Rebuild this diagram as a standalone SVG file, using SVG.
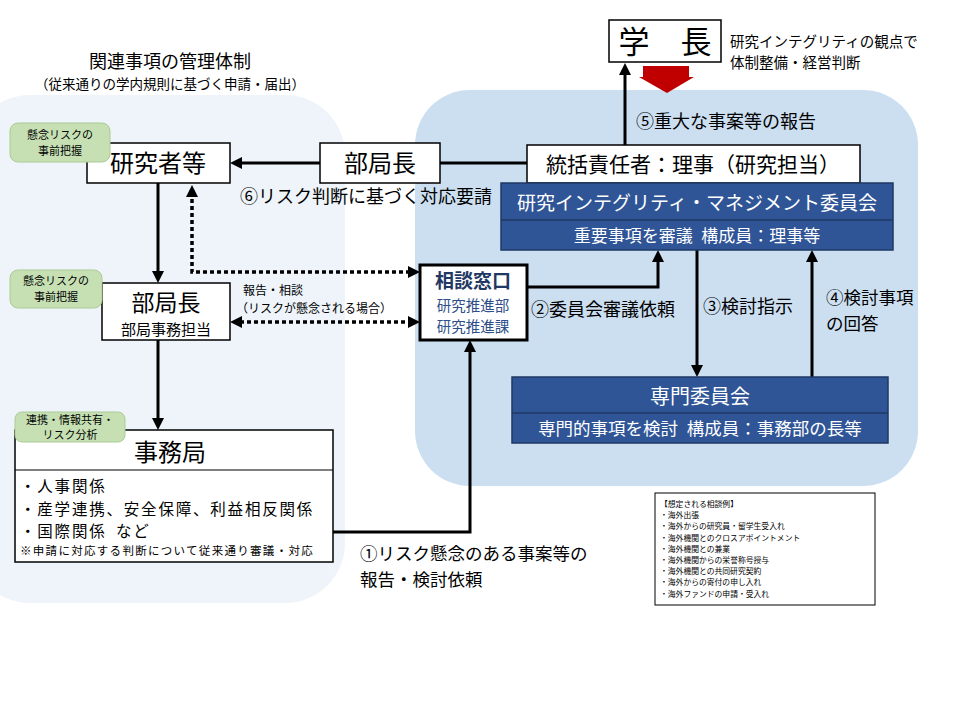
<svg xmlns="http://www.w3.org/2000/svg" width="960" height="720" viewBox="0 0 960 720">
<defs>
<style>
text{font-family:"Noto Sans CJK JP","Noto Sans",sans-serif;fill:#000}
.box{fill:#fff;stroke:#000;stroke-width:1.5}
.tag{fill:#C6E0B4;stroke:#AACB95;stroke-width:1}
.tagt{font-size:11px;text-anchor:middle}
.navy{fill:#2F5597;stroke:#1F3864;stroke-width:1.5}
.wt{fill:#fff;text-anchor:middle}
.c{text-anchor:middle}
.lbl{font-size:17.5px}
.solid{fill:none;stroke:#000;stroke-width:3}
.dot{fill:none;stroke:#000;stroke-width:3.5;stroke-dasharray:4 3}
.ex{font-size:7.8px}
.item{font-size:15.5px;letter-spacing:1.8px}
</style>
<marker id="ah" viewBox="0 0 12 12" markerWidth="12" markerHeight="12" markerUnits="userSpaceOnUse" refX="2" refY="6" orient="auto-start-reverse">
<path d="M0,0 L12,6 L0,12 z" fill="#000"/>
</marker>
</defs>
<rect width="960" height="720" fill="#fff"/>
<g id="backgrounds">
<rect x="-30" y="95" width="375" height="508" rx="60" fill="#EEF4FA"/>
<rect x="415" y="90" width="503" height="396" rx="55" fill="#CCDFF1"/>
</g>
<g id="title">
<text x="170" y="68" class="c" font-size="18">関連事項の管理体制</text>
<text x="170" y="89" class="c" font-size="13.5">（従来通りの学内規則に基づく申請・届出）</text>
</g>
<g id="connectors">
<path class="solid" d="M527,163 H440"/>
<path class="solid" d="M320,163 H240" marker-end="url(#ah)"/>
<path class="solid" d="M625,145 V73" marker-end="url(#ah)"/>
<path class="solid" d="M158,183 V273" marker-end="url(#ah)"/>
<path class="solid" d="M158,340 V420" marker-end="url(#ah)"/>
<path class="dot" d="M410,272 H192 V195" marker-start="url(#ah)" marker-end="url(#ah)"/>
<path class="dot" d="M240,322 H410" marker-start="url(#ah)" marker-end="url(#ah)"/>
<path class="solid" d="M333,532 H470 V350" marker-end="url(#ah)"/>
<path class="solid" d="M527,287 H658 V260" marker-end="url(#ah)"/>
<path class="solid" d="M697,250 V367" marker-end="url(#ah)"/>
<path class="solid" d="M812,377 V260" marker-end="url(#ah)"/>
<polygon points="643,66 689,66 689,77 694,77 667,93 639,77 643,77" fill="#C00000"/>
</g>
<g id="labels">
<text x="240" y="203" font-size="18">⑥リスク判断に基づく対応要請</text>
<text x="636" y="128" font-size="18">⑤重大な事案等の報告</text>
<text x="531" y="316" font-size="18">②委員会審議依頼</text>
<text x="703" y="313" font-size="18">③検討指示</text>
<text x="826" y="304" class="lbl">④検討事項</text>
<text x="826" y="330" class="lbl">の回答</text>
<text x="243" y="295" font-size="12">報告・相談</text>
<text x="236" y="313" font-size="12">（リスクが懸念される場合）</text>
<text x="360" y="560" class="lbl">①リスク懸念のある事案等の</text>
<text x="360" y="586" class="lbl">報告・検討依頼</text>
</g>
<g id="president">
<rect x="609" y="20" width="112" height="42" class="box"/>
<text x="665" y="53" class="c" font-size="31">学　長</text>
<text x="730" y="47" font-size="14.5">研究インテグリティの観点で</text>
<text x="730" y="68" font-size="14.5">体制整備・経営判断</text>
</g>
<g id="researchers">
<rect x="87" y="143" width="143" height="40" class="box"/>
<text x="158" y="172" class="c" font-size="24">研究者等</text>
<rect x="10" y="123" width="100" height="39" rx="8" class="tag"/>
<text x="60" y="139" class="tagt">懸念リスクの</text>
<text x="60" y="155" class="tagt">事前把握</text>
</g>
<g id="dept-head-top">
<rect x="320" y="143" width="120" height="40" class="box"/>
<text x="380" y="172" class="c" font-size="24">部局長</text>
</g>
<g id="chief">
<rect x="527" y="145" width="333" height="38" class="box"/>
<text x="693" y="172" class="c" font-size="21">統括責任者：理事（研究担当）</text>
</g>
<g id="committee">
<rect x="501" y="183" width="392" height="67" class="navy"/>
<line x1="501" y1="220" x2="893" y2="220" stroke="#1F3864" stroke-width="1.5"/>
<text x="697" y="210" class="wt" font-size="19">研究インテグリティ・マネジメント委員会</text>
<text x="697" y="242" class="wt" font-size="17">重要事項を審議&#8194;構成員：理事等</text>
</g>
<g id="consult">
<rect x="420" y="265" width="107" height="75" fill="#fff" stroke="#000" stroke-width="3"/>
<text x="473" y="288" class="c" font-size="19" font-weight="bold" style="fill:#1F3864">相談窓口</text>
<text x="473" y="310.5" class="c" font-size="14.5" style="fill:#2F4F8A">研究推進部</text>
<text x="473" y="331.5" class="c" font-size="14.5" style="fill:#2F4F8A">研究推進課</text>
</g>
<g id="dept-head">
<rect x="102" y="283" width="128" height="57" class="box"/>
<text x="166" y="310.5" class="c" font-size="23">部局長</text>
<text x="166" y="335" class="c" font-size="15">部局事務担当</text>
<rect x="10" y="270" width="92" height="38" rx="8" class="tag"/>
<text x="56" y="285" class="tagt">懸念リスクの</text>
<text x="56" y="301" class="tagt">事前把握</text>
</g>
<g id="expert">
<rect x="512" y="377" width="376" height="66" class="navy"/>
<line x1="512" y1="413" x2="888" y2="413" stroke="#1F3864" stroke-width="1.5"/>
<text x="700" y="404" class="wt" font-size="20">専門委員会</text>
<text x="700" y="435" class="wt" font-size="17.5">専門的事項を検討&#8194;構成員：事務部の長等</text>
</g>
<g id="office">
<rect x="15" y="430" width="318" height="132" class="box"/>
<line x1="15" y1="470" x2="333" y2="470" stroke="#000" stroke-width="1.2"/>
<text x="170" y="461" class="c" font-size="24">事務局</text>
<text x="20" y="492" class="item">・人事関係</text>
<text x="20" y="514.5" class="item">・産学連携、安全保障、利益相反関係</text>
<text x="20" y="537" class="item">・国際関係&#8194;など</text>
<text x="20" y="555" font-size="11.5" letter-spacing="1.3">※申請に対応する判断について従来通り審議・対応</text>
<rect x="15" y="412" width="110" height="30" rx="7" class="tag"/>
<text x="70" y="424" class="tagt" font-size="10.5">連携・情報共有・</text>
<text x="70" y="439" class="tagt" font-size="10.5">リスク分析</text>
</g>
<g id="examples">
<rect x="655" y="493" width="220" height="112" fill="#fff" stroke="#000" stroke-width="1"/>
<text x="660" y="507" class="ex">【想定される相談例】</text>
<text x="660" y="518.2" class="ex">・海外出張</text>
<text x="660" y="529.4" class="ex">・海外からの研究員・留学生受入れ</text>
<text x="660" y="540.6" class="ex">・海外機関とのクロスアポイントメント</text>
<text x="660" y="551.8" class="ex">・海外機関との兼業</text>
<text x="660" y="563" class="ex">・海外機関からの栄誉称号授与</text>
<text x="660" y="574.2" class="ex">・海外機関との共同研究契約</text>
<text x="660" y="585.4" class="ex">・海外からの寄付の申し入れ</text>
<text x="660" y="596.6" class="ex">・海外ファンドの申請・受入れ</text>
</g>
</svg>
